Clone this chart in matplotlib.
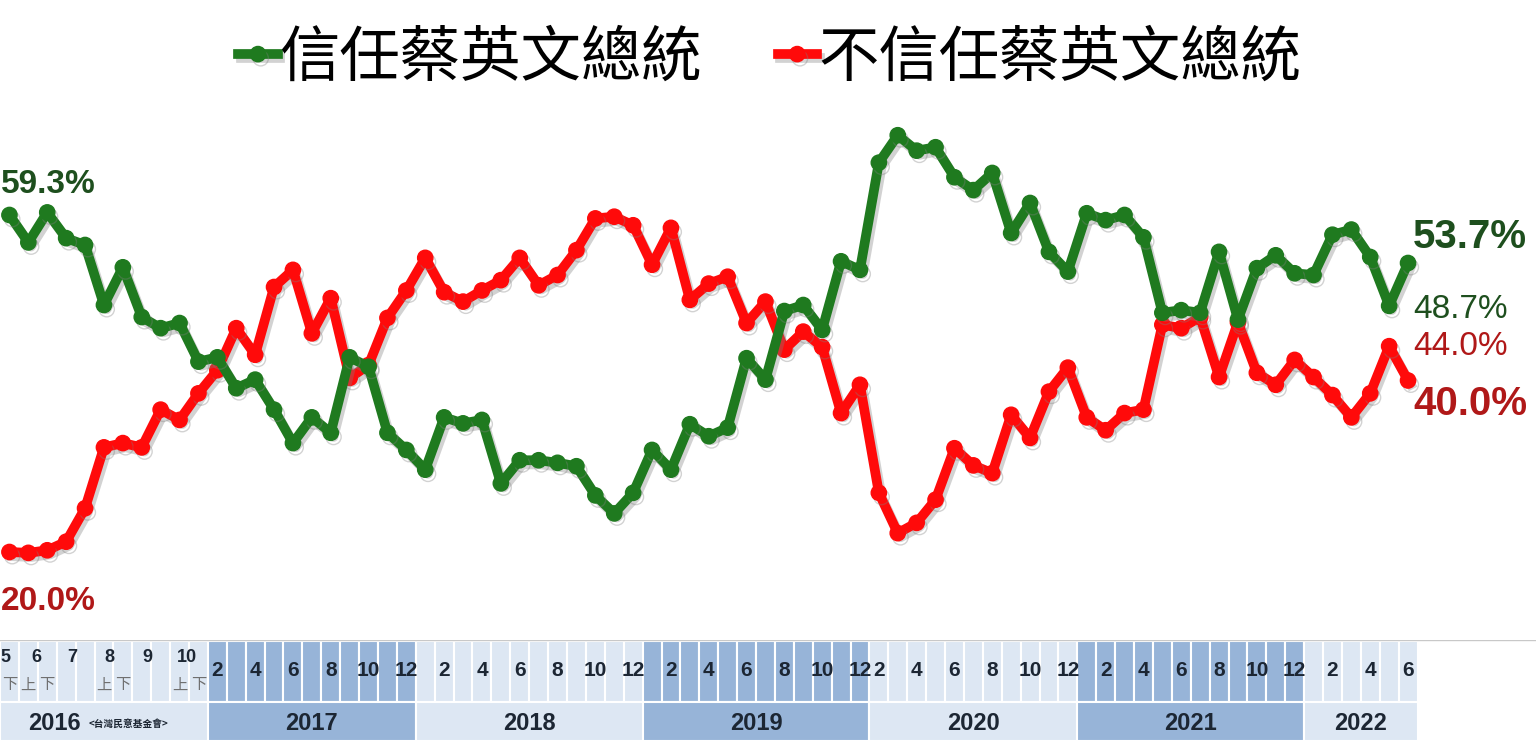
import numpy as np
import matplotlib
matplotlib.use("Agg")
from matplotlib import pyplot as plt
from matplotlib import patheffects as pe
from matplotlib.patches import Rectangle

# 2016 was polled twice a month, later monthly (no poll in Jan 2017, Jan 2020)
months_2016 = ["5", "6", "7", "8", "9", "10"]
halves_2016 = ["下", "上", "下", "", "", "上", "下", "", "", "上", "下"]
months_2017 = list(range(2, 13))
months_2018 = list(range(1, 13))
months_2019 = list(range(1, 13))
months_2020 = list(range(2, 13))
months_2021 = list(range(1, 13))
months_2022 = list(range(1, 7))

trust = [59.3, 56.1, 59.6, 56.6, 55.8, 48.8, 53.2, 47.4, 46.1, 46.7, 42.2,
         42.7, 39.1, 40.1, 36.6, 32.7, 35.7, 33.9, 42.7, 41.6, 33.9, 31.9,
         29.6, 35.7, 35.0, 35.4, 28.0, 30.7, 30.7, 30.4, 30.0, 26.6, 24.5, 26.9,
         31.9, 29.6, 34.9, 33.5, 34.5, 42.6, 40.1, 48.1, 48.8, 45.9, 53.9, 52.9,
         65.4, 68.6, 66.8, 67.2, 63.7, 62.2, 64.2, 57.2, 60.7, 55.0, 52.7,
         59.5, 58.7, 59.3, 56.7, 47.9, 48.2, 47.9, 55.0, 47.1, 53.1, 54.6, 52.5,
         52.3, 57.0, 57.6, 54.4, 48.7, 53.7]
distrust = [20.0, 19.9, 20.2, 21.2, 25.1, 32.2, 32.7, 32.2, 36.6, 35.4, 38.5,
            41.2, 46.1, 43.0, 50.9, 52.9, 45.5, 49.6, 40.3, 41.8, 47.3, 50.5,
            54.3, 50.3, 49.2, 50.5, 51.7, 54.3, 51.1, 52.3, 55.2, 58.9, 59.1, 58.1,
            53.5, 57.8, 49.4, 51.3, 52.1, 46.7, 49.2, 43.6, 45.7, 43.9, 36.2, 39.5,
            26.9, 22.2, 23.4, 26.1, 32.1, 30.1, 29.2, 36.0, 33.3, 38.7, 41.5,
            35.7, 34.2, 36.2, 36.6, 46.5, 46.1, 47.4, 40.4, 46.8, 40.9, 39.5, 42.4,
            40.4, 38.3, 35.7, 38.5, 44.0, 40.0]

year_blocks = [("2016", halves_2016), ("2017", months_2017), ("2018", months_2018),
               ("2019", months_2019), ("2020", months_2020), ("2021", months_2021),
               ("2022", months_2022)]

GREEN = "#1f7a1f"
RED = "#ff0a0a"
DARKGREEN = "#1e4f1e"
DARKRED = "#b01818"
LIGHT = "#dde7f3"
DARK = "#97b4d8"
INK = "#1c2633"
SANS = ["Liberation Sans", "DejaVu Sans"]
CJK = ["Noto Sans CJK TC", "DejaVu Sans"]

fig = plt.figure(figsize=(15.36, 7.41), dpi=100)
ax = fig.add_axes([0, 0, 1, 1])
xlim = (-0.5, 1536 / 18.9 - 0.5)
ax.set_xlim(xlim)
ax.set_ylim(-2.04, 84.37)
ax.axis("off")

x = np.arange(len(trust))
shadow = [pe.SimpleLineShadow(offset=(2, -3), shadow_color="gray", alpha=0.35), pe.Normal()]
l1, = ax.plot(x, trust, color=GREEN, lw=7, marker="o", ms=11, solid_joinstyle="round",
              path_effects=shadow, label="信任蔡英文總統", zorder=3)
l2, = ax.plot(x, distrust, color=RED, lw=7, marker="o", ms=11, solid_joinstyle="round",
              path_effects=shadow, label="不信任蔡英文總統", zorder=2)

def lab(i, vals, dx, dy, color, size, weight="bold"):
    ax.annotate(f"{vals[i]:.1f}%", xy=(x[i], vals[i]), xytext=(dx, dy),
                textcoords="offset pixels", ha="left", va="center",
                color=color, fontsize=size, fontweight=weight, family=SANS)

lab(0, trust, -9, 30, DARKGREEN, 24)
lab(0, distrust, -9, -50, DARKRED, 24)
lab(-1, trust, 5, 26, DARKGREEN, 29)
lab(-2, trust, 24, -4, DARKGREEN, 24, "normal")
lab(-2, distrust, 24, 0, DARKRED, 24, "normal")
lab(-1, distrust, 5, -24, DARKRED, 29)

fig.legend(handles=[l1, l2], loc="center", bbox_to_anchor=(770 / 1536, 1 - 58 / 741),
           ncol=2, frameon=False, handlelength=0.65, handletextpad=0.03,
           columnspacing=1.25, prop={"family": CJK, "size": 43.5})

# bottom month / year table
ax_t = fig.add_axes([0, 0, 1, 101 / 741])
ax_t.set_xlim(xlim)
ax_t.set_ylim(0, 101)
ax_t.axis("off")
ax_t.axhline(101, color="#c8c8c8", lw=1)
start = -0.5
for yr, cells in year_blocks:
    n = len(cells)
    col = DARK if yr in ("2017", "2019", "2021") else LIGHT
    for j in range(n):
        ax_t.add_patch(Rectangle((start + j, 39), 1, 61, facecolor=col,
                                 edgecolor="white", lw=1.5))
        if yr == "2016":
            if cells[j]:
                ax_t.text(start + j + 0.5, 56, cells[j], ha="center", va="center",
                          fontsize=11, color="#6f6f6f", family=CJK)
        elif cells[j] % 2 == 0:
            ax_t.text(start + j + 0.5, 70, str(cells[j]), ha="center", va="center",
                      fontsize=15, fontweight="bold", color=INK, family=SANS)
    ax_t.add_patch(Rectangle((start, 0), n, 39, facecolor=col, edgecolor="white", lw=1.5))
    if yr == "2016":
        ax_t.text(start + 2.9, 18, yr, ha="center", va="center", fontsize=17,
                  fontweight="bold", color=INK, family=SANS)
        ax_t.text(4.2, 17, "<台灣民意基金會>", ha="left", va="center",
                  fontsize=7, fontweight="bold", color=INK, family=CJK)
    else:
        ax_t.text(start + n / 2, 18, yr, ha="center", va="center", fontsize=17,
                  fontweight="bold", color=INK, family=SANS)
    start += n

for m, pos in zip(months_2016, [-0.2, 1.4, 3.3, 5.3, 7.3, 9.4]):
    ax_t.text(pos, 84, m, ha="center", va="center", fontsize=13, fontweight="bold",
              color=INK, family=SANS)

fig.savefig("out.png", dpi=100)
